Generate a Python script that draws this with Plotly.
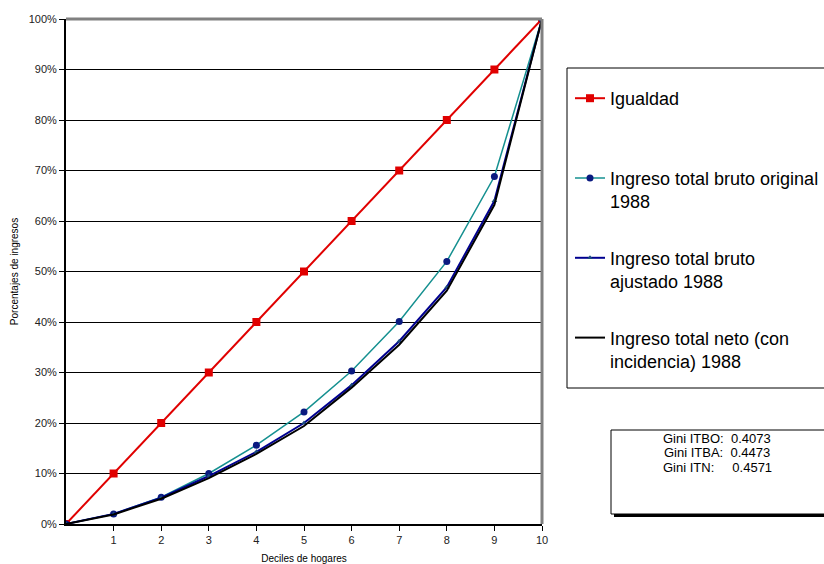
import plotly.graph_objects as go

deciles = [0, 1, 2, 3, 4, 5, 6, 7, 8, 9, 10]
igualdad = [0, 10, 20, 30, 40, 50, 60, 70, 80, 90, 100]
original = [0, 2.0, 5.3, 10.0, 15.6, 22.2, 30.3, 40.1, 52.0, 68.8, 100]
ajustado = [0, 2.0, 5.2, 9.5, 14.3, 20.0, 27.5, 36.2, 46.9, 64.0, 100]
neto = [0, 1.9, 5.0, 9.1, 13.9, 19.4, 27.0, 35.5, 46.2, 63.2, 100]
x_ticks = [1, 2, 3, 4, 5, 6, 7, 8, 9, 10]
y_ticks = [0, 10, 20, 30, 40, 50, 60, 70, 80, 90, 100]
y_labels = [f"{v}%" for v in y_ticks]
gini_text = ["Gini ITBO:  0.4073", "Gini ITBA:  0.4473", "Gini ITN:     0.4571"]

FONT = "Liberation Sans, Arial, sans-serif"

fig = go.Figure()
fig.add_trace(go.Scatter(x=deciles, y=igualdad, name="Igualdad<br>&nbsp;", mode="lines+markers",
                         line=dict(color="#E00000", width=2),
                         marker=dict(symbol="square", size=8, color="#E00000"),
                         legendgroup="a"))
fig.add_trace(go.Scatter(x=deciles, y=original, name="Ingreso total bruto original<br>1988",
                         mode="lines+markers",
                         line=dict(color="#159090", width=1.5),
                         marker=dict(symbol="circle", size=7, color="#0A1A80"),
                         legendgroup="b"))
fig.add_trace(go.Scatter(x=deciles, y=ajustado, name="Ingreso total bruto<br>ajustado 1988",
                         mode="lines+markers",
                         line=dict(color="#000090", width=2),
                         marker=dict(symbol="triangle-up", size=5, color="#1A4A80"),
                         legendgroup="c"))
fig.add_trace(go.Scatter(x=deciles, y=neto, name="Ingreso total neto (con<br>incidencia) 1988",
                         mode="lines", line=dict(color="#000000", width=2),
                         legendgroup="d"))

# px -> paper conversion helpers
L, R, T, B = 66, 542, 19, 524
def px_x(p):
    return (p - L) / (R - L)
def px_y(p):
    return (B - p) / (B - T)

shapes = [
    # top and right plot border (gray)
    dict(type="line", xref="paper", yref="paper", x0=0, x1=1, y0=1, y1=1,
         line=dict(color="#808080", width=3), layer="above"),
    dict(type="line", xref="paper", yref="paper", x0=1, x1=1, y0=0, y1=1,
         line=dict(color="#808080", width=3), layer="above"),
    # legend box
    dict(type="rect", xref="paper", yref="paper",
         x0=px_x(567), x1=px_x(830), y0=px_y(388), y1=px_y(68),
         line=dict(color="#000000", width=1)),
    # gini box shadow + box
    dict(type="rect", xref="paper", yref="paper",
         x0=px_x(614), x1=px_x(830), y0=px_y(517), y1=px_y(514),
         line=dict(width=0), fillcolor="#000000"),
    dict(type="rect", xref="paper", yref="paper",
         x0=px_x(611), x1=px_x(830), y0=px_y(514), y1=px_y(430),
         line=dict(color="#000000", width=1), fillcolor="white"),
]

annotations = []
for i, t in enumerate(gini_text):
    annotations.append(dict(xref="paper", yref="paper", x=px_x(717), y=px_y(438 + i * 14.5),
                            text=t.replace(" ", "&nbsp;"), showarrow=False,
                            font=dict(family=FONT, size=13, color="#000000"),
                            xanchor="center", yanchor="middle"))

fig.update_layout(
    width=824, height=564,
    margin=dict(l=L, r=824 - R, t=T, b=564 - B, autoexpand=False),
    paper_bgcolor="white", plot_bgcolor="white",
    font=dict(family=FONT, color="#000000"),
    showlegend=True,
    legend=dict(x=px_x(570), y=px_y(80), xanchor="left", yanchor="top",
                font=dict(family=FONT, size=18, color="#000000"),
                bgcolor="rgba(0,0,0,0)", borderwidth=0,
                tracegroupgap=30, valign="top", itemwidth=30),
    shapes=shapes,
    annotations=annotations,
    xaxis=dict(range=[0, 10], tickvals=x_ticks, ticks="outside", ticklen=5,
               tickcolor="#000000", showline=True, linecolor="#000000", linewidth=2,
               showgrid=False, zeroline=False, automargin=False,
               tickfont=dict(size=11, color="#222222"),
               title=dict(text="Deciles de hogares", font=dict(size=10), standoff=10)),
    yaxis=dict(range=[0, 100], tickvals=y_ticks, ticktext=y_labels, ticks="outside",
               ticklen=5, tickcolor="#000000", showline=True, linecolor="#000000",
               linewidth=2, showgrid=True, gridcolor="#000000", gridwidth=1,
               zeroline=False, automargin=False, tickfont=dict(size=11, color="#222222"),
               title=dict(text="Porcentajes de ingresos", font=dict(size=10), standoff=8)),
)

fig.write_html("out.html")
